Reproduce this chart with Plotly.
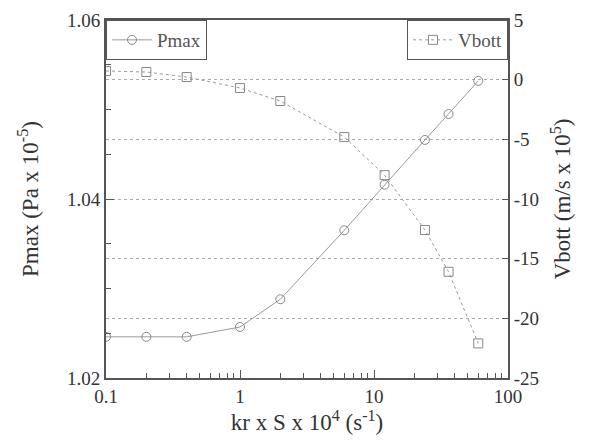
import plotly.graph_objects as go

kr_s = [0.1, 0.2, 0.4, 1, 2, 6, 12, 24, 36, 60]
pmax = [1.0246, 1.0246, 1.0246, 1.0257, 1.0288, 1.0365, 1.0416, 1.0466, 1.0495, 1.0532]
vbott = [0.73, 0.64, 0.22, -0.70, -1.79, -4.81, -8.0, -12.6, -16.1, -22.1]

x_ticks = [0.1, 1, 10, 100]
x_ticktext = ["0.1", "1", "10", "100"]
x_minor = [m * d for d in (0.1, 1, 10) for m in range(2, 10)]
y_ticks = [1.02, 1.04, 1.06]
y_ticktext = ["1.02", "1.04", "1.06"]
y2_ticks = [5, 0, -5, -10, -15, -20, -25]
y2_ticktext = ["5", "0", "-5", "-10", "-15", "-20", "-25"]

FF = "Liberation Serif"
axis_col = "#555555"
txt_col = "#333333"

fig = go.Figure()
fig.add_trace(go.Scatter(
    x=kr_s, y=pmax, name="Pmax", mode="lines+markers",
    line=dict(color="#9a9a9a", width=1),
    marker=dict(symbol="circle-open", size=9, color="#888888", line=dict(width=1)),
    legend="legend", showlegend=True,
))
fig.add_trace(go.Scatter(
    x=kr_s, y=vbott, name="Vbott", mode="lines+markers", yaxis="y2",
    line=dict(color="#9a9a9a", width=1, dash="dot"),
    marker=dict(symbol="square-open", size=9, color="#888888", line=dict(width=1)),
    legend="legend2", showlegend=True,
))

fig.update_layout(
    width=590, height=445, showlegend=True,
    margin=dict(l=106, r=82, t=20, b=67, autoexpand=False),
    paper_bgcolor="white", plot_bgcolor="white",
    font=dict(family=FF, size=19, color=txt_col),
    xaxis=dict(
        type="log", range=[-1, 2], automargin=False,
        tickvals=x_ticks, ticktext=x_ticktext,
        ticks="inside", ticklen=8, tickcolor=axis_col,
        minor=dict(tickvals=x_minor, ticks="inside", ticklen=5, tickcolor=axis_col, showgrid=False),
        showline=True, linecolor=axis_col, linewidth=2, mirror=True,
        showgrid=False, zeroline=False,
        title=dict(text="kr x S x 10<sup>4</sup> (s<sup>-1</sup>)", standoff=2,
                   font=dict(family="Times New Roman")),
    ),
    yaxis=dict(
        range=[1.02, 1.06], tickvals=y_ticks, ticktext=y_ticktext, automargin=False,
        ticks="inside", ticklen=8, tickcolor=axis_col,
        minor=dict(dtick=0.005, ticks="inside", ticklen=5, tickcolor=axis_col, showgrid=False),
        showline=True, linecolor=axis_col, linewidth=2, mirror=True,
        showgrid=False, zeroline=False,
        title=dict(text="Pmax (Pa x 10<sup>-5</sup>)", standoff=22,
                   font=dict(family="Times New Roman")),
    ),
    yaxis2=dict(
        overlaying="y", side="right", range=[-25, 5], automargin=False,
        tickvals=y2_ticks, ticktext=y2_ticktext,
        ticks="inside", ticklen=6, tickcolor=axis_col,
        showline=True, linecolor=axis_col, linewidth=2,
        showgrid=True, gridcolor="#aaaaaa", griddash="dot", gridwidth=1,
        zeroline=False,
        title=dict(text="Vbott (m/s x 10<sup>5</sup>)", standoff=16,
                   font=dict(family="Times New Roman")),
    ),
    legend=dict(
        x=0, y=1, xanchor="left", yanchor="top",
        bordercolor=axis_col, borderwidth=1, bgcolor="white",
        font=dict(color="#555555", family="Times New Roman"), itemwidth=40,
    ),
    legend2=dict(
        x=1, y=1, xanchor="right", yanchor="top",
        bordercolor=axis_col, borderwidth=1, bgcolor="white",
        font=dict(color="#555555", family="Times New Roman"), itemwidth=40,
    ),
)

fig.write_html("out.html", config={"displayModeBar": False},
               post_script="document.body.style.margin='0';")
